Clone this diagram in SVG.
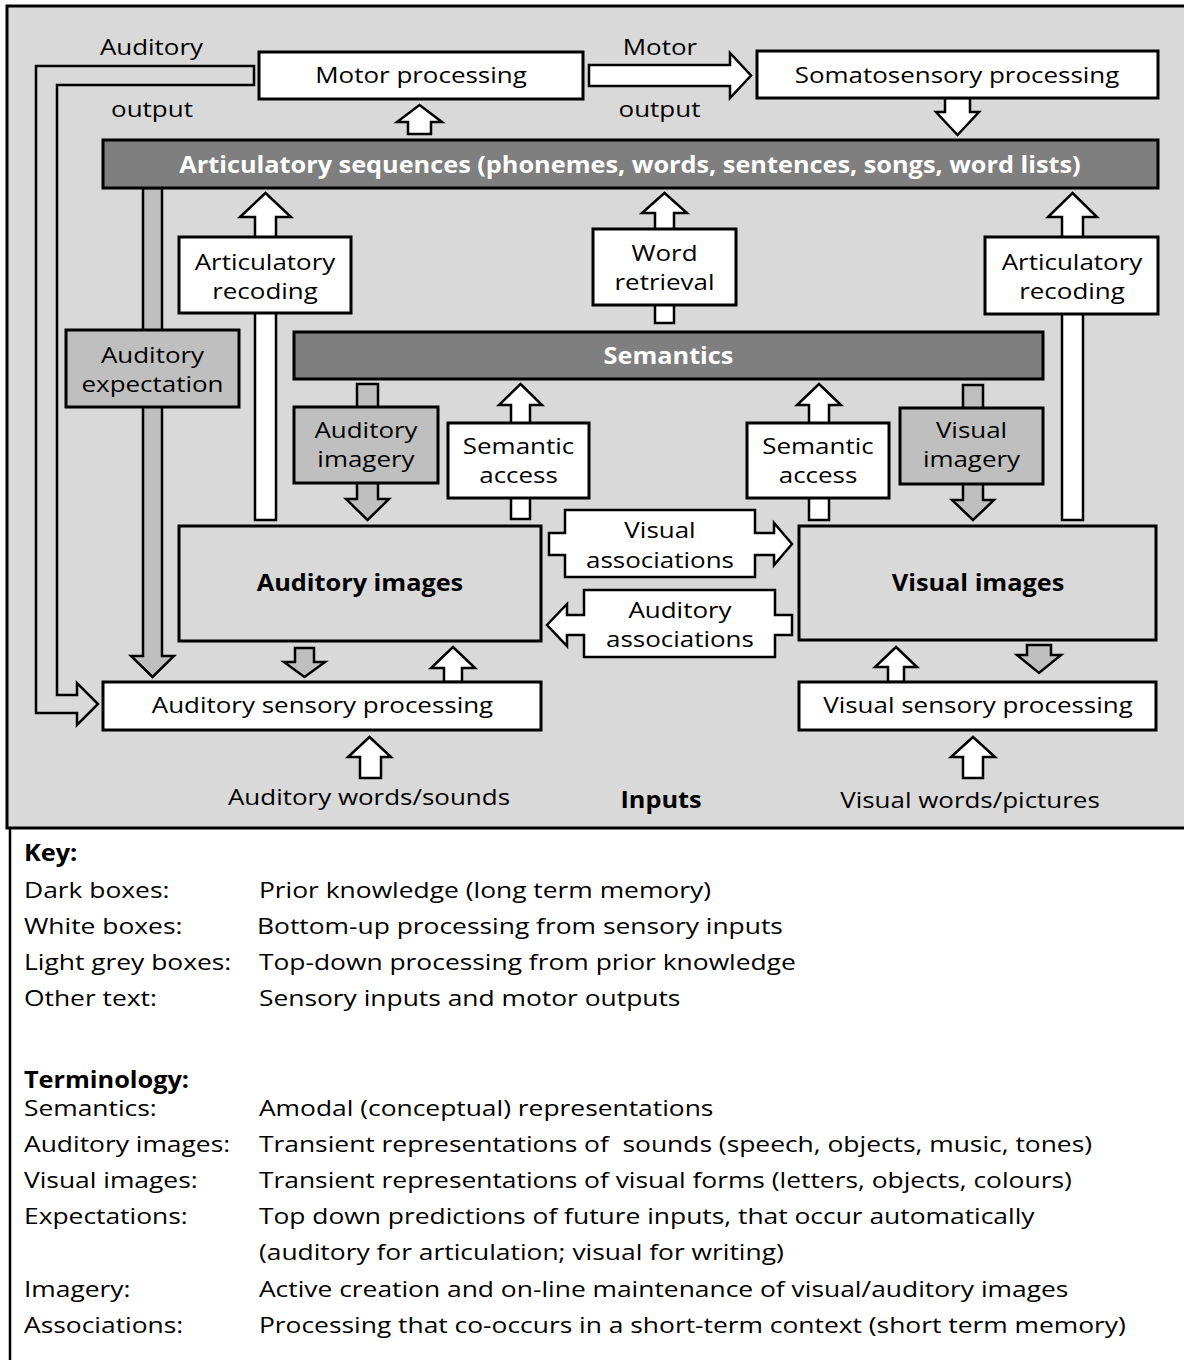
<svg xmlns="http://www.w3.org/2000/svg" width="1184" height="1360" viewBox="0 0 1184 1360">
<style>
.t{font-family:"Open Sans","Liberation Sans",sans-serif;font-size:22px;fill:#000}
.c{text-anchor:middle}
.b{font-weight:bold;font-size:23px}
.w{fill:#fff}
.box{stroke:#000;stroke-width:3}
.wh{fill:#fff}
.lg{fill:#bfbfbf}
.dk{fill:#7f7f7f}
.bg{fill:#d9d9d9}
.ar{stroke:#000;stroke-width:2.5;stroke-linejoin:miter}
</style>
<rect x="0" y="0" width="1184" height="1360" fill="#fff"/>
<rect id="panel" x="7" y="6" width="1190" height="822" class="bg" stroke="#000" stroke-width="3"/>
<line x1="10" y1="828" x2="10" y2="1360" stroke="#000" stroke-width="2.5"/>

<g id="connectors">
  <polygon class="ar bg" points="254,66 36,66 36,713 77,713 77,725 98,704 77,683 77,695 57,695 57,85 254,85"/>
  <polygon class="ar wh" points="419.5,105 442,122 431,122 431,134 408,134 408,122 397,122"/>
  <polygon class="ar wh" points="589,65 730,65 730,53 751,75.5 730,98 730,86 589,86"/>
  <polygon class="ar wh" points="945,98 970,98 970,112 979,112 957.5,135 936,112 945,112"/>
  <polygon class="ar lg" points="143,188 162,188 162,656 174,656 152.5,677 131,656 143,656"/>
  <polygon class="ar wh" points="265.5,193 291,217 276,217 276,520 255,520 255,217 240,217"/>
  <polygon class="ar wh" points="1072.5,193 1097,217 1083,217 1083,520 1062,520 1062,217 1048,217"/>
  <polygon class="ar wh" points="664.5,193 687,213 674,213 674,323 655,323 655,213 642,213"/>
  <polygon class="ar lg" points="357,384 378,384 378,499 389,499 367.5,520 346,499 357,499"/>
  <polygon class="ar wh" points="520.5,384 542,405 530,405 530,519 511,519 511,405 499,405"/>
  <polygon class="ar wh" points="819,384 841,405 829,405 829,520 809,520 809,405 797,405"/>
  <polygon class="ar lg" points="963,385 983,385 983,500 994,500 973,520 952,500 963,500"/>
  <polygon class="ar lg" points="295,648 314,648 314,662 325,662 304.5,677 284,662 295,662"/>
  <polygon class="ar wh" points="453,647 475,668 462,668 462,682 444,682 444,668 431,668"/>
  <polygon class="ar wh" points="369.5,737 391,757 381,757 381,778 360,778 360,757 348,757"/>
  <polygon class="ar wh" points="896,647 917,667 904,667 904,682 888,682 888,667 875,667"/>
  <polygon class="ar lg" points="1027,645 1051,645 1051,655 1061,655 1039,673 1017,655 1027,655"/>
  <polygon class="ar wh" points="973,737 995,757 983,757 983,778 963,778 963,757 951,757"/>
</g>

<g id="auditory-output-label">
  <text class="t c" transform="scale(1.18,1)" x="128.39" y="55">Auditory</text>
  <text class="t c" transform="scale(1.18,1)" x="128.81" y="117">output</text>
</g>
<g id="motor-output-label">
  <text class="t c" transform="scale(1.18,1)" x="559.32" y="55">Motor</text>
  <text class="t c" transform="scale(1.18,1)" x="558.90" y="117">output</text>
</g>

<g id="motor-processing">
  <rect class="box wh" x="259" y="52" width="324" height="47"/>
  <text class="t c" transform="scale(1.18,1)" x="356.78" y="83">Motor processing</text>
</g>
<g id="somatosensory-processing">
  <rect class="box wh" x="757" y="51" width="401" height="47"/>
  <text class="t c" transform="scale(1.18,1)" x="811.02" y="83">Somatosensory processing</text>
</g>
<g id="articulatory-sequences">
  <rect class="box dk" x="103" y="140" width="1055" height="48"/>
  <text class="t c b w" transform="scale(1.1,1)" x="572.73" y="173">Articulatory sequences (phonemes, words, sentences, songs, word lists)</text>
</g>
<g id="articulatory-recoding-left">
  <rect class="box wh" x="179" y="237" width="172" height="76"/>
  <text class="t c" transform="scale(1.18,1)" x="224.58" y="270">Articulatory</text>
  <text class="t c" transform="scale(1.18,1)" x="224.58" y="299">recoding</text>
</g>
<g id="articulatory-recoding-right">
  <rect class="box wh" x="985" y="237" width="173" height="77"/>
  <text class="t c" transform="scale(1.18,1)" x="908.47" y="270">Articulatory</text>
  <text class="t c" transform="scale(1.18,1)" x="908.47" y="299">recoding</text>
</g>
<g id="word-retrieval">
  <rect class="box wh" x="593" y="229" width="143" height="76"/>
  <text class="t c" transform="scale(1.18,1)" x="563.14" y="261">Word</text>
  <text class="t c" transform="scale(1.18,1)" x="563.14" y="290">retrieval</text>
</g>
<g id="auditory-expectation">
  <rect class="box lg" x="66" y="330" width="173" height="77"/>
  <text class="t c" transform="scale(1.18,1)" x="129.24" y="363">Auditory</text>
  <text class="t c" transform="scale(1.18,1)" x="129.24" y="392">expectation</text>
</g>
<g id="semantics">
  <rect class="box dk" x="294" y="332" width="749" height="47"/>
  <text class="t c b w" transform="scale(1.1,1)" x="607.73" y="364">Semantics</text>
</g>
<g id="auditory-imagery">
  <rect class="box lg" x="294" y="407" width="144" height="76"/>
  <text class="t c" transform="scale(1.18,1)" x="310.17" y="438">Auditory</text>
  <text class="t c" transform="scale(1.18,1)" x="310.17" y="467">imagery</text>
</g>
<g id="semantic-access-left">
  <rect class="box wh" x="448" y="423" width="141" height="75"/>
  <text class="t c" transform="scale(1.18,1)" x="439.41" y="454">Semantic</text>
  <text class="t c" transform="scale(1.18,1)" x="439.41" y="483">access</text>
</g>
<g id="semantic-access-right">
  <rect class="box wh" x="747" y="423" width="142" height="75"/>
  <text class="t c" transform="scale(1.18,1)" x="693.22" y="454">Semantic</text>
  <text class="t c" transform="scale(1.18,1)" x="693.22" y="483">access</text>
</g>
<g id="visual-imagery">
  <rect class="box lg" x="900" y="408" width="143" height="76"/>
  <text class="t c" transform="scale(1.18,1)" x="823.31" y="438">Visual</text>
  <text class="t c" transform="scale(1.18,1)" x="823.31" y="467">imagery</text>
</g>
<g id="visual-associations">
  <polygon class="ar wh" points="549,533 565,533 565,510 755,510 755,533 774,533 774,523 792,544 774,565 774,555 755,555 755,577 565,577 565,555 549,555"/>
  <text class="t c" transform="scale(1.18,1)" x="559.32" y="538">Visual</text>
  <text class="t c" transform="scale(1.18,1)" x="559.32" y="568">associations</text>
</g>
<g id="auditory-associations">
  <polygon class="ar wh" points="792,615 775,615 775,590 584,590 584,615 567,615 567,604 547,625 567,646 567,635 584,635 584,657 775,657 775,635 792,635"/>
  <text class="t c" transform="scale(1.18,1)" x="576.27" y="618">Auditory</text>
  <text class="t c" transform="scale(1.18,1)" x="576.27" y="647">associations</text>
</g>
<g id="auditory-images">
  <rect class="box bg" x="179" y="526" width="362" height="115"/>
  <text class="t c b" transform="scale(1.1,1)" x="327.27" y="591">Auditory images</text>
</g>
<g id="visual-images">
  <rect class="box bg" x="799" y="526" width="357" height="114"/>
  <text class="t c b" transform="scale(1.1,1)" x="889.09" y="591">Visual images</text>
</g>
<g id="auditory-sensory-processing">
  <rect class="box wh" x="103" y="682" width="438" height="48"/>
  <text class="t c" transform="scale(1.18,1)" x="273.31" y="713">Auditory sensory processing</text>
</g>
<g id="visual-sensory-processing">
  <rect class="box wh" x="799" y="682" width="357" height="48"/>
  <text class="t c" transform="scale(1.18,1)" x="828.81" y="713">Visual sensory processing</text>
</g>
<g id="inputs">
  <text class="t c" transform="scale(1.18,1)" x="312.71" y="805">Auditory words/sounds</text>
  <text class="t c b" transform="scale(1.1,1)" x="600.91" y="808">Inputs</text>
  <text class="t c" transform="scale(1.18,1)" x="822.03" y="808">Visual words/pictures</text>
</g>

<g id="key">
  <text class="t b" transform="scale(1.1,1)" x="21.82" y="861">Key:</text>
  <text class="t" transform="scale(1.2,1)" x="20" y="898">Dark boxes:</text>
  <text class="t" transform="scale(1.2,1)" x="215.8" y="898">Prior knowledge (long term memory)</text>
  <text class="t" transform="scale(1.2,1)" x="20" y="934">White boxes:</text>
  <text class="t" transform="scale(1.2,1)" x="214.2" y="934">Bottom-up processing from sensory inputs</text>
  <text class="t" transform="scale(1.2,1)" x="20" y="970">Light grey boxes:</text>
  <text class="t" transform="scale(1.2,1)" x="215.8" y="970">Top-down processing from prior knowledge</text>
  <text class="t" transform="scale(1.2,1)" x="20" y="1006">Other text:</text>
  <text class="t" transform="scale(1.2,1)" x="215.8" y="1006">Sensory inputs and motor outputs</text>
</g>
<g id="terminology">
  <text class="t b" transform="scale(1.1,1)" x="21.82" y="1088">Terminology:</text>
  <text class="t" transform="scale(1.2,1)" x="20" y="1116">Semantics:</text>
  <text class="t" transform="scale(1.2,1)" x="215.8" y="1116">Amodal (conceptual) representations</text>
  <text class="t" transform="scale(1.2,1)" x="20" y="1152">Auditory images:</text>
  <text class="t" transform="scale(1.2,1)" x="215.8" y="1152" xml:space="preserve">Transient representations of  sounds (speech, objects, music, tones)</text>
  <text class="t" transform="scale(1.2,1)" x="20" y="1188">Visual images:</text>
  <text class="t" transform="scale(1.2,1)" x="215.8" y="1188">Transient representations of visual forms (letters, objects, colours)</text>
  <text class="t" transform="scale(1.2,1)" x="20" y="1224">Expectations:</text>
  <text class="t" transform="scale(1.2,1)" x="215.8" y="1224">Top down predictions of future inputs, that occur automatically</text>
  <text class="t" transform="scale(1.2,1)" x="215.8" y="1260">(auditory for articulation; visual for writing)</text>
  <text class="t" transform="scale(1.2,1)" x="20" y="1297">Imagery:</text>
  <text class="t" transform="scale(1.2,1)" x="215.8" y="1297">Active creation and on-line maintenance of visual/auditory images</text>
  <text class="t" transform="scale(1.2,1)" x="20" y="1333">Associations:</text>
  <text class="t" transform="scale(1.2,1)" x="215.8" y="1333">Processing that co-occurs in a short-term context (short term memory)</text>
</g>
</svg>
